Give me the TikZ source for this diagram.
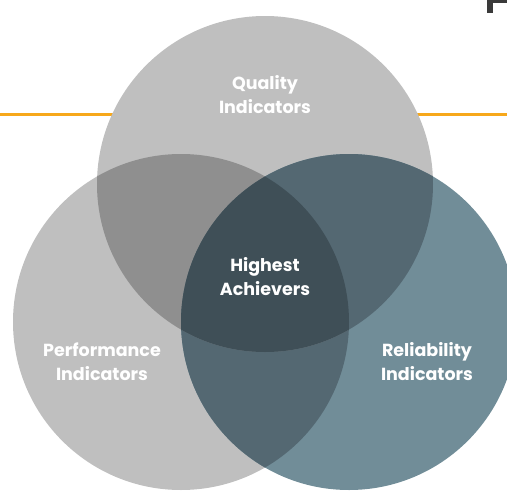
\documentclass[tikz,border=0pt]{standalone}
\usepackage{fontspec}
\setmainfont{Poppins}
\definecolor{vorange}{HTML}{F7A81B}
\definecolor{vgray}{HTML}{BFBFBF}
\definecolor{vgraydark}{HTML}{8F8F8F}
\definecolor{vblue}{HTML}{718D98}
\definecolor{vbluedark}{HTML}{546872}
\definecolor{vcore}{HTML}{3F4F57}
\definecolor{vink}{HTML}{3A3A3A}
\begin{document}
\begin{tikzpicture}[x=1pt,y=-1pt,
    setname/.style={text=white,font=\bfseries\fontsize{17.5}{24}\selectfont,align=center}]
        \useasboundingbox (0,0) rectangle (507,491);
        %% cut-off heading letter
        \fill[vink] (487,0) rectangle (493,13);
        \fill[vink] (487,0) rectangle (507,2.5);
        %% orange rule behind the sets
        \draw[line width=3pt,vorange] (0,114.5) -- (507,114.5);
        %% centres of the three sets
        \coordinate (Q) at (265,184);
        \coordinate (P) at (181,322);
        \coordinate (R) at (349,322);
        %% sets
        \fill[vgray] (Q) circle[radius=168pt];
        \fill[vgray] (P) circle[radius=168pt];
        \fill[vblue] (R) circle[radius=168pt];
        %% overlaps
        \begin{scope}
            \clip (P) circle[radius=168pt];
            \fill[vbluedark] (R) circle[radius=168pt];
        \end{scope}
        \begin{scope}
            \clip (Q) circle[radius=168pt];
            \fill[vgraydark] (P) circle[radius=168pt];
            \fill[vbluedark] (R) circle[radius=168pt];
            \clip (P) circle[radius=168pt];
            \fill[vcore] (R) circle[radius=168pt];
        \end{scope}
        %% labels
        \node[setname] (quality) at (265,95) {Quality\\Indicators};
        \node[setname] (highest) at (265,277) {Highest\\Achievers};
        \node[setname] (performance) at (102,362) {Performance\\Indicators};
        \node[setname] (reliability) at (427,362) {Reliability\\Indicators};
    \end{tikzpicture}
\end{document}
